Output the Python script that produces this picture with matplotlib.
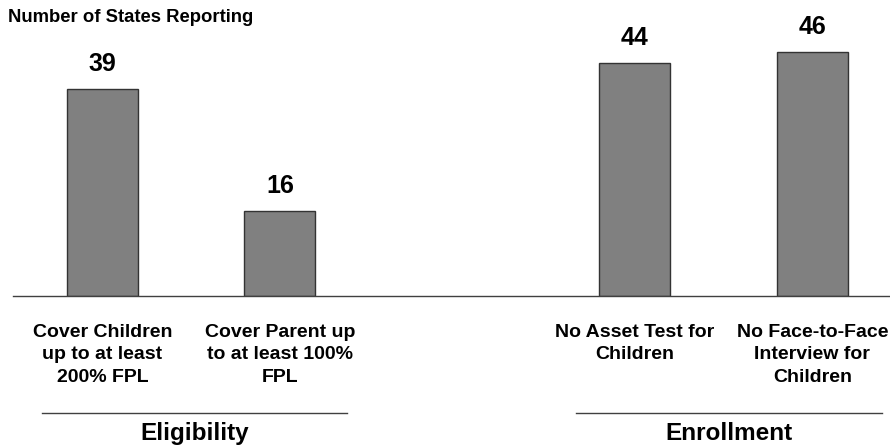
import matplotlib.pyplot as plt
from matplotlib.transforms import blended_transform_factory

plt.rcParams['font.family'] = ['Liberation Sans', 'DejaVu Sans']
plt.rcParams['font.weight'] = 'bold'

categories = ['Cover Children\nup to at least\n200% FPL',
              'Cover Parent up\nto at least 100%\nFPL',
              'No Asset Test for\nChildren',
              'No Face-to-Face\nInterview for\nChildren']
states = [39, 16, 44, 46]
positions = [0, 1, 3, 4]
groups = ['Eligibility', 'Enrollment']
group_spans = [(-0.34, 1.38), (2.67, 4.39)]

fig = plt.figure(figsize=(8.9, 4.48), dpi=100)
ax = fig.add_axes([13 / 890, 152 / 448, 877 / 890, 296 / 448])

bars = ax.bar(positions, states, width=0.4, color='#808080',
              edgecolor='#333333', linewidth=1)
for rect, v in zip(bars, states):
    ax.text(rect.get_x() + rect.get_width() / 2, v + 2.4, str(v),
            ha='center', va='bottom', fontsize=18, fontweight='bold')

ax.set_xlim(-0.504, 4.437)
ax.set_ylim(0, 55.8)
ax.set_xticks(positions)
ax.set_xticklabels(categories, fontsize=14, fontweight='bold', linespacing=1.42)
ax.tick_params(axis='x', length=0, pad=20)
ax.set_yticks([])
for side in ['top', 'right', 'left']:
    ax.spines[side].set_visible(False)
ax.spines['bottom'].set_color('#404040')
ax.spines['bottom'].set_linewidth(1)

# group underlines and names below the categories
trans = blended_transform_factory(ax.transData, fig.transFigure)
for name, (x0, x1) in zip(groups, group_spans):
    ax.plot([x0, x1], [35 / 448, 35 / 448], color='#404040', lw=1,
            transform=trans, clip_on=False)
    ax.text((x0 + x1) / 2, 8 / 448, name, transform=trans, ha='center',
            va='baseline', fontsize=17.5, fontweight='bold')

fig.text(8 / 890, 1 - 9 / 448, 'Number of States Reporting', ha='left',
         va='top', fontsize=13.3, fontweight='bold')

fig.savefig('out.png', dpi=100)
